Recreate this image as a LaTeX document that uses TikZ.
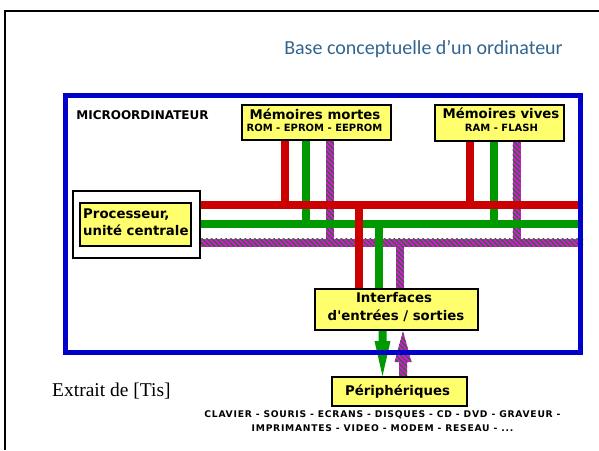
\documentclass[tikz,border=0pt]{standalone}
\usepackage{fontspec}
\setmainfont{DejaVu Sans}
\newfontfamily\titlefnt{Carlito}
\newfontfamily\seriffnt{Liberation Serif}
\newfontfamily\boxfnt{DejaVu Sans Bold}
\newfontfamily\tinyfnt{DejaVu Sans Bold}[LetterSpace=8]
\usetikzlibrary{patterns.meta,backgrounds}
\definecolor{busred}{HTML}{CC0000}
\definecolor{busgreen}{HTML}{009900}
\definecolor{busmag}{HTML}{E010E0}
\definecolor{ublue}{HTML}{0000CC}
\definecolor{boxyellow}{HTML}{FFFF6E}
\definecolor{titleblue}{HTML}{31658F}
\tikzset{
  ybox/.style={draw=black, line width=2pt, fill=boxyellow, inner sep=0pt},
  maintxt/.style={font=\boxfnt\fontsize{13.3}{15}\selectfont, anchor=base, inner sep=0pt},
  subtxt/.style={font=\boxfnt\fontsize{10}{12}\selectfont, anchor=base, inner sep=0pt},
  listtxt/.style={font=\tinyfnt\fontsize{9.2}{11}\selectfont, anchor=base, inner sep=0pt},
  rbus/.style={draw=busred, line width=8pt},
  gbus/.style={draw=busgreen, line width=8pt},
  pbus/.style={fill=busmag, postaction={pattern={Lines[angle=-45,distance=3.4pt,line width=1.05pt]}, pattern color=busgreen!85!black}},
  garrow/.style={fill=busgreen},
}
\begin{document}
\begin{tikzpicture}[x=1pt,y=-1pt]
\useasboundingbox (0,0) rectangle (599,450);
% container
\node[draw=ublue, line width=5pt, minimum width=515pt, minimum height=257pt, inner sep=0pt] (micro) at (323,224) {};
\node[font=\boxfnt\fontsize{12}{14}\selectfont, anchor=base, inner sep=0pt] (microT) at (142.5,119.5) {MICROORDINATEUR};
% title and source
\node[font=\titlefnt\fontsize{20}{24}\selectfont, text=titleblue, anchor=base, inner sep=0pt] (title) at (423.5,54) {Base conceptuelle d’un ordinateur};
\node[font=\seriffnt\fontsize{19.5}{22}\selectfont, anchor=base west, inner sep=0pt] (src) at (52,396) {Extrait de [Tis]};
% processor
\node[ybox, fill=white, minimum width=127pt, minimum height=67pt] (procout) at (136.5,224.5) {};
\node[ybox, minimum width=111pt, minimum height=43pt] (proc) at (135.5,224.5) {};
\node[maintxt, anchor=base west] (procA) at (83,218.3) {Processeur,};
\node[maintxt, anchor=base west] (procB) at (83,235) {unité centrale};
% memories
\node[ybox, minimum width=149pt, minimum height=35pt] (mortes) at (316.5,122.5) {};
\node[maintxt] (mortesA) at (315,119) {Mémoires mortes};
\node[subtxt] (mortesB) at (314.5,131.7) {ROM - EPROM - EEPROM};
\node[ybox, minimum width=129pt, minimum height=36pt] (vives) at (499.5,123) {};
\node[maintxt] (vivesA) at (501,118) {Mémoires vives};
\node[subtxt] (vivesB) at (501.5,131.7) {RAM - FLASH};
% interfaces
\node[ybox, minimum width=163pt, minimum height=41pt] (iface) at (396.5,309.5) {};
\node[maintxt] (ifaceA) at (394,302.7) {Interfaces};
\node[maintxt] (ifaceB) at (396,320) {d'entrées / sorties};
% peripherals
\node[ybox, minimum width=135pt, minimum height=29pt] (periph) at (399.5,391.5) {};
\node[maintxt] (periphT) at (397.5,395) {Périphériques};
\node[listtxt] (listA) at (382.5,417.5) {CLAVIER - SOURIS - ECRANS - DISQUES - CD - DVD - GRAVEUR -};
\node[listtxt] (listB) at (382.5,431) {IMPRIMANTES - VIDEO - MODEM - RESEAU - ...};
\begin{scope}[on background layer]
  % slide frame
  \draw[line width=2pt] (5,450) -- (5,11) -- (599,11);
  % memory verticals
  \draw[rbus] (285,0 |- mortes.south) -- (285,205);
  \draw[gbus] (306,0 |- mortes.south) -- (306,224);
  \path[pbus] (326,0 |- mortes.south) rectangle (334,246.5);
  \draw[rbus] (470,0 |- vives.south) -- (470,205);
  \draw[gbus] (494,0 |- vives.south) -- (494,224);
  \path[pbus] (512.7,0 |- vives.south) rectangle (520.7,246.5);
  % horizontal buses
  \draw[rbus] (procout.east |- 0,205) -- (micro.east |- 0,205);
  \draw[gbus] (procout.east |- 0,224) -- (micro.east |- 0,224);
  \path[pbus] (procout.east |- 0,238.5) rectangle (micro.east |- 0,246.5);
  % interface verticals
  \draw[rbus] (358.5,201) -- (358.5,0 |- iface.north);
  \draw[gbus] (379.3,220) -- (379.3,0 |- iface.north);
  \path[pbus] (396,238.5) rectangle (404,0 |- iface.north);
  % arrows
  \fill[garrow] (378.5,0 |- iface.south) -- (386.5,0 |- iface.south) -- (386.5,341) -- (390.5,341)
     -- (382.5,0 |- periph.north) -- (374.5,341) -- (378.5,341) -- cycle;
  \path[pbus] (399,0 |- periph.north) -- (407,0 |- periph.north) -- (407,362) -- (411.5,362)
     -- (403,0 |- iface.south) -- (394.5,362) -- (399,362) -- cycle;
\end{scope}
\end{tikzpicture}
\end{document}
